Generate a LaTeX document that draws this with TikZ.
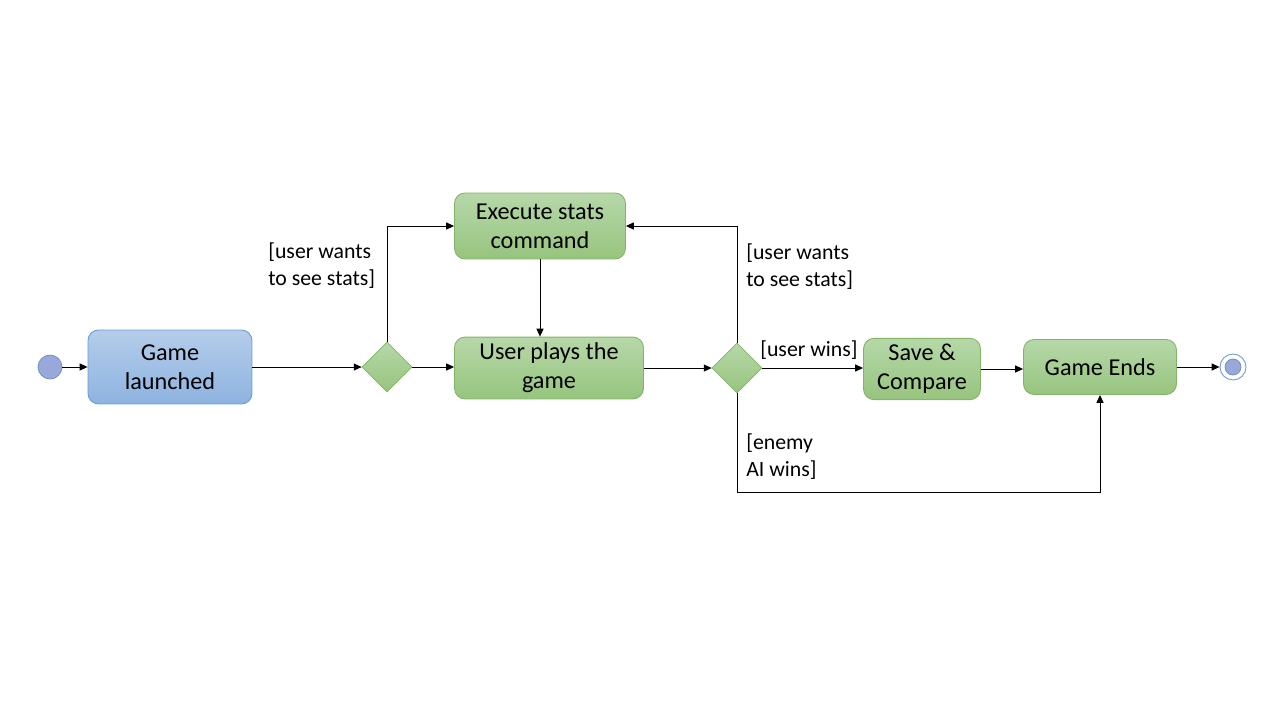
\documentclass[tikz,border=0pt]{standalone}
\usepackage{fontspec}
\setmainfont{Carlito}
\usetikzlibrary{shapes.geometric,arrows.meta}
\definecolor{greentop}{HTML}{B6D8A9}
\definecolor{greenbot}{HTML}{97C47E}
\definecolor{greenline}{HTML}{82B366}
\definecolor{bluetop}{HTML}{B4CDEA}
\definecolor{bluebot}{HTML}{8EB3E0}
\definecolor{blueline}{HTML}{6C9BD2}
\definecolor{dotfill}{HTML}{98A8DA}
\definecolor{dotline}{HTML}{6C8EBF}
\tikzset{
  act/.style={draw=greenline, line width=0.5pt, rounded corners=6pt, top color=greentop, bottom color=greenbot, align=center, font=\fontsize{13.8}{16.6}\selectfont},
  choice/.style={diamond, aspect=1, draw=greenline, line width=0.4pt, top color=greentop, bottom color=greenbot, minimum size=1cm, inner sep=0pt},
  guard/.style={align=left, anchor=west, inner sep=0pt, font=\fontsize{12.4}{15.3}\selectfont},
  flow/.style={draw=black, line width=0.5pt, -{Triangle[length=4.5pt,width=4pt]}}
}
\begin{document}
\begin{tikzpicture}[x=0.02cm,y=-0.02cm]
\useasboundingbox (0,0) rectangle (1280,720);
% states
\node[circle, draw=dotline, fill=dotfill, minimum size=0.48cm, inner sep=0pt] (start) at (50,367) {};
\node[act, draw=blueline, top color=bluetop, bottom color=bluebot, minimum width=3.28cm, minimum height=1.48cm] (launch) at (170,367) {Game\\launched};
\node[choice] (d1) at (387,367) {};
\node[act, minimum width=3.42cm, minimum height=1.32cm] (exec) at (540,226) {Execute stats\\command};
\node[act, minimum width=3.78cm, minimum height=1.2cm] (play) at (549,368) {User plays the\\game};
\node[choice] (d2) at (737,368) {};
\node[act, minimum width=2.34cm, minimum height=1.12cm] (save) at (922,369) {Save \&\\Compare};
\node[act, minimum width=3.06cm, minimum height=1.1cm] (ends) at (1100,367) {Game Ends};
\node[circle, draw=blueline, fill=white, line width=0.5pt, minimum size=0.52cm, inner sep=0pt] (stop) at (1233,367) {};
\node[circle, draw=dotline, fill=dotfill, minimum size=0.32cm, inner sep=0pt] (stopdot) at (stop) {};
\coordinate (low) at (0,492);
% flows
\draw[flow] (start) -- (launch);
\draw[flow] (launch) -- (d1);
\draw[flow] (d1) -- (d1 -| play.west);
\draw[flow] (d1.north) |- (exec.west);
\draw[flow] (exec.south) -- (exec.south |- play.north);
\draw[flow] (play.east) -- (d2.west);
\draw[flow] (d2.north) |- (exec.east);
\draw[flow] (d2.east) -- (d2.east -| save.west);
\draw[flow] (save) -- (save -| ends.west);
\draw[flow] (d2.south) -- (d2.south |- low) -| (ends.south);
\draw[flow] (ends) -- (ends -| stop.west);
% guards
\node[guard] (g1) at (268,266) {[user wants\\to see stats]};
\node[guard] (g2) at (746,267) {[user wants\\to see stats]};
\node[guard] (g3) at (760,350) {[user wins]};
\node[guard] (g4) at (746,457) {[enemy\\AI wins]};
\end{tikzpicture}
\end{document}
